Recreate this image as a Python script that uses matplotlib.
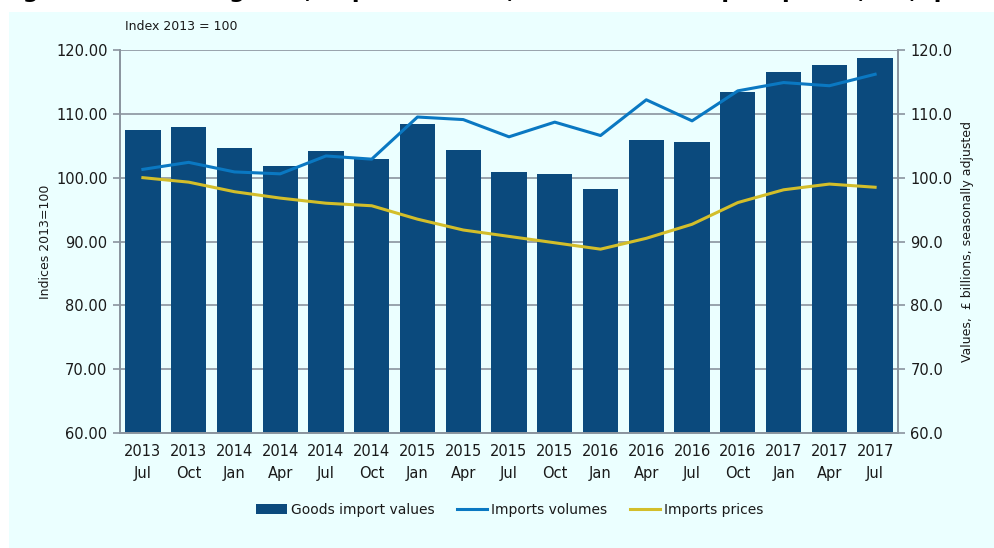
import matplotlib
matplotlib.use("Agg")
from matplotlib import pyplot as plt
from matplotlib.patches import Rectangle, Patch
from matplotlib.lines import Line2D
import numpy as np

# data
years = ["2013", "2013", "2014", "2014", "2014", "2014", "2015", "2015", "2015",
         "2015", "2016", "2016", "2016", "2016", "2017", "2017", "2017"]
months = ["Jul", "Oct", "Jan", "Apr", "Jul", "Oct", "Jan", "Apr", "Jul",
          "Oct", "Jan", "Apr", "Jul", "Oct", "Jan", "Apr", "Jul"]
goods_values = [107.4, 107.9, 104.6, 101.8, 104.1, 102.9, 108.4, 104.3, 100.9,
                100.6, 98.3, 105.9, 105.6, 113.4, 116.5, 117.7, 118.7]
import_volumes = [101.3, 102.4, 100.9, 100.6, 103.4, 102.9, 109.5, 109.1, 106.4,
                  108.7, 106.6, 112.2, 108.9, 113.6, 114.9, 114.4, 116.2]
import_prices = [100.0, 99.3, 97.8, 96.8, 96.0, 95.6, 93.5, 91.8, 90.8,
                 89.8, 88.8, 90.5, 92.7, 96.1, 98.1, 99.0, 98.5]
tick_labels = [y + "\n" + m for y, m in zip(years, months)]

bar_col = "#0b4a7d"
vol_col = "#0a78c2"
price_col = "#d3be2a"
axis_col = "#8a949e"
bg_col = "#ebffff"
text_col = "#1a1a1a"

plt.rcParams['font.family'] = ['DejaVu Sans']

fig = plt.figure(figsize=(9.95, 5.48), dpi=100, facecolor="white")
fig.patches.append(Rectangle((9 / 995, 0), 1 - 9 / 995, 1 - 12 / 548,
                             transform=fig.transFigure, facecolor=bg_col,
                             edgecolor="none", zorder=-10))

# title, cut off at the top edge as in the reference (only descenders show)
fig.text(0.0, 1 + 2.5 / 548, "Figure 4: Trade in goods, imports values, volumes and import prices, UK, quarterly",
         fontsize=16, fontweight="bold", color="black", va="baseline", ha="left")

ax = fig.add_axes([120 / 995, 1 - 433 / 548, 778 / 995, 383 / 548])
ax2 = ax.twinx()

x = np.arange(len(goods_values))

# bars against right axis (values), lines on the left axis (indices)
ax2.bar(x, goods_values, width=0.77, color=bar_col, zorder=2)
ax2.set_axisbelow(True)
ax2.yaxis.grid(True, color=axis_col, linewidth=1.2)
ax.set_zorder(ax2.get_zorder() + 1)
ax.patch.set_visible(False)
ax2.patch.set_visible(False)

ax.plot(x, import_volumes, color=vol_col, linewidth=2.2)
ax.plot(x, import_prices, color=price_col, linewidth=2.2)

for a in (ax, ax2):
    a.set_ylim(60, 120)
    a.set_yticks(np.arange(60, 121, 10))
    a.set_xlim(-0.5, len(goods_values) - 0.5)
    for s in a.spines.values():
        s.set_color(axis_col)
        s.set_linewidth(1.2)
    a.spines["top"].set_visible(False)
    a.tick_params(axis="y", colors=axis_col, labelcolor=text_col, length=5,
                  width=1.2, labelsize=10.5, pad=4)

ax.set_yticklabels(["%.2f" % v for v in np.arange(60, 121, 10)])
ax2.set_yticklabels(["%.1f" % v for v in np.arange(60, 121, 10)])

# category labels centred, ticks at boundaries
ax.set_xticks(np.arange(-0.5, len(goods_values), 1.0))
ax.set_xticklabels([])
ax.tick_params(axis="x", colors=axis_col, length=5, width=1.2)
ax.set_xticks(x, minor=True)
ax.set_xticklabels(tick_labels, minor=True, fontsize=10.5, color=text_col,
                   linespacing=1.6)
ax.tick_params(axis="x", which="minor", length=0, pad=8)
ax2.set_xticks([])

ax.set_ylabel("Indices 2013=100", fontsize=9, color=text_col, labelpad=3)
ax2.set_ylabel("Values,  £ billions, seasonally adjusted", fontsize=9,
               color=text_col, labelpad=6)

fig.text(125 / 995, 1 - 27 / 548, "Index 2013 = 100", fontsize=9,
         color=text_col, va="center", ha="left")

handles = [Patch(facecolor=bar_col, edgecolor="none"),
           Line2D([0], [0], color=vol_col, linewidth=2.2),
           Line2D([0], [0], color=price_col, linewidth=2.2)]
fig.legend(handles, ["Goods import values", "Imports volumes", "Imports prices"],
           loc="center", bbox_to_anchor=(510 / 995, 1 - 510 / 548), ncol=3,
           frameon=False, fontsize=10, handlelength=2.2, handletextpad=0.3,
           columnspacing=1.6, labelcolor=text_col)

fig.savefig("out.png", dpi=100, facecolor="white")
